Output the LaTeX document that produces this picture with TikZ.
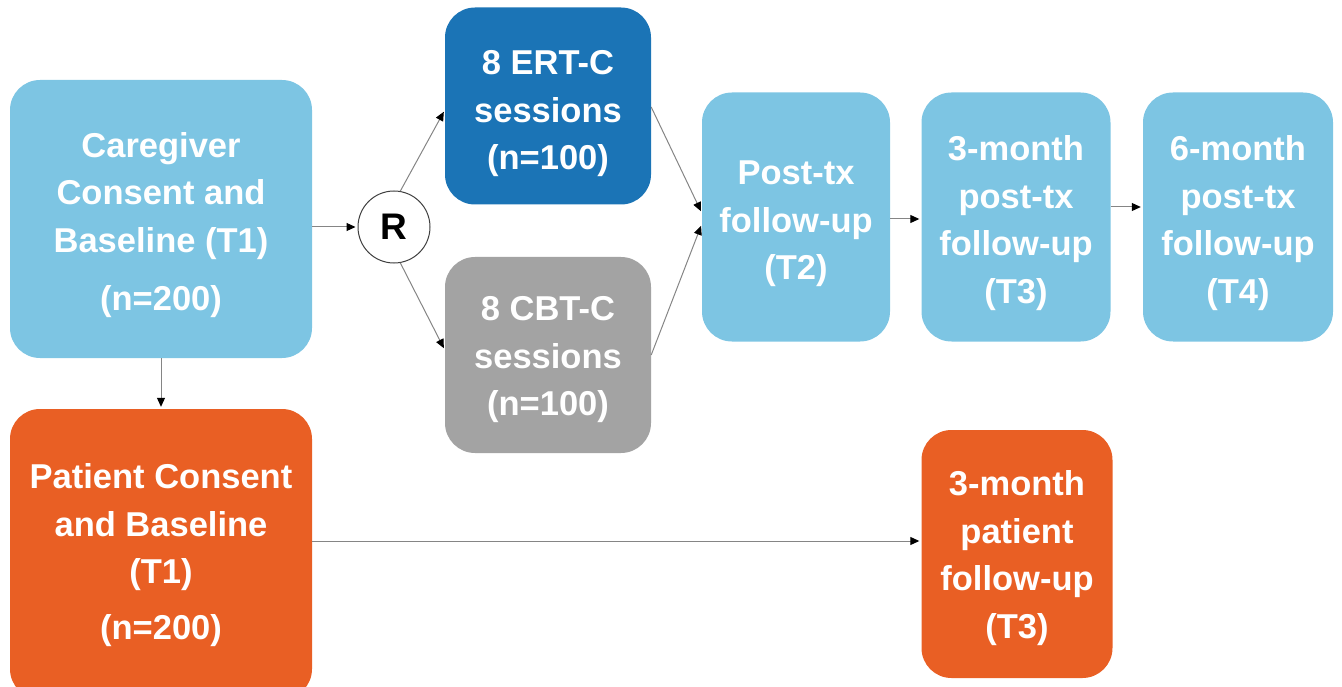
\documentclass[tikz,border=0pt]{standalone}
\usepackage{fontspec}
\setmainfont{Liberation Sans}
\usetikzlibrary{arrows.meta}
\definecolor{lblue}{HTML}{7DC5E3}
\definecolor{dblue}{HTML}{1B74B6}
\definecolor{gbox}{HTML}{A3A3A3}
\definecolor{obox}{HTML}{E95F24}
\definecolor{lgray}{HTML}{858585}
\begin{document}
\begin{tikzpicture}[x=1pt,y=-1pt,
  box/.style={rectangle,rounded corners=30pt,inner sep=0pt},
  txt/.style={align=center,text=white,inner sep=0pt,
    font=\fontsize{34.5}{47.5}\selectfont\bfseries},
  conn/.style={draw=lgray,line width=1pt,-{Triangle[width=8pt,length=9pt,fill=black,color=black]},shorten >=2pt}]
\useasboundingbox (0,0) rectangle (1342,687);
\node[box,fill=lblue,minimum width=302pt,minimum height=278pt,
  label={[txt,yshift=-6pt]center:{Caregiver\\Consent and\\Baseline (T1)\\[11pt](n=200)}}] (care) at (161,219) {};
\node[box,fill=obox,minimum width=302pt,minimum height=290pt,
  label={[txt,yshift=-1pt]center:{Patient Consent\\and Baseline\\(T1)\\[8pt](n=200)}}] (pat) at (161,554) {};
\node[draw=black!75,line width=1pt,circle,fill=white,minimum size=72pt,inner sep=0pt,
  font=\fontsize{37}{40}\selectfont\bfseries] (R) at (394,227) {R};
\node[box,fill=dblue,minimum width=206pt,minimum height=197pt,
  label={[txt,yshift=-8pt]center:{8 ERT-C\\sessions\\(n=100)}}] (ert) at (548,106) {};
\node[box,fill=gbox,minimum width=206pt,minimum height=196pt,
  label={[txt,yshift=-5pt]center:{8 CBT-C\\sessions\\(n=100)}}] (cbt) at (548,355) {};
\node[box,fill=lblue,minimum width=188pt,minimum height=249pt,
  label={[txt,yshift=-7pt]center:{Post-tx\\follow-up\\(T2)}}] (post) at (796,217) {};
\node[box,fill=lblue,minimum width=189pt,minimum height=249pt,
  label={[txt,yshift=-6pt]center:{3-month\\post-tx\\follow-up\\(T3)}}] (m3) at (1016,217) {};
\node[box,fill=lblue,minimum width=190pt,minimum height=249pt,
  label={[txt,yshift=-6pt]center:{6-month\\post-tx\\follow-up\\(T4)}}] (m6) at (1238,217) {};
\node[box,fill=obox,minimum width=191pt,minimum height=248pt,
  label={[txt,yshift=-4pt]center:{3-month\\patient\\follow-up\\(T3)}}] (pm3) at (1017,554) {};
\draw[conn] (care.east |- R) -- (R);
\draw[conn] (R.80) -- ([yshift=-4pt]ert.west);
\draw[conn] (R.-80) -- ([yshift=5pt]cbt.west);
\draw[conn] ([yshift=-1pt]ert.east) -- ([yshift=4pt]post.west);
\draw[conn] (cbt.east) -- ([yshift=-7pt]post.west);
\draw[conn] ([yshift=-2pt]post.east) -- ([yshift=-2pt]m3.west);
\draw[conn] ([yshift=10pt]m3.east) -- ([yshift=10pt]m6.west);
\draw[conn] (care) -- (pat);
\draw[conn] (pat.east |- 0,541) -- (pm3.west |- 0,541);
\end{tikzpicture}
\end{document}
